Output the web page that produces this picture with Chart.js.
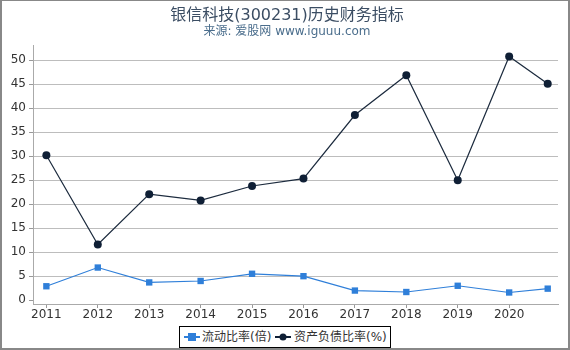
<!DOCTYPE html>
<html>
<head>
<meta charset="utf-8">
<script src="https://cdn.jsdelivr.net/npm/chart.js@4/dist/chart.umd.min.js"></script>
<style>
  body { margin: 0; background: #fff; }
  #wrap { position: relative; width: 570px; height: 350px; box-sizing: border-box; border: 2px solid #888; border-top-width: 1px; }
  #c { position: absolute; left: -2px; top: -1px; }
  .t { position: absolute; left: 0; width: 570px; text-align: center; font-family: "DejaVu Sans", "Noto Sans CJK SC", sans-serif; }
  #title { top: 0px; font-size: 16px; color: #3b4d63; }
  #sub { top: 20px; font-size: 12px; color: #4a6d8c; }
  #legend { position: absolute; left: 177px; top: 325px; width: 210px; height: 20px; border: 1px solid #000; background: #fff;
    font-family: "DejaVu Sans", "Noto Sans CJK SC", sans-serif; font-size: 12px; color: #333; line-height: 20px; white-space: nowrap; }
  #legend canvas, #legend span { position: absolute; }
  #legend canvas { top: 5px; }
  #legend span { top: 0; }
</style>
</head>
<body>
<div id="wrap">
  <canvas id="c" width="570" height="350"></canvas>
  <div class="t" id="title">银信科技(300231)历史财务指标</div>
  <div class="t" id="sub">来源: 爱股网 www.iguuu.com</div>
  <div id="legend"></div>
</div>
<script>
// x positions (years; last point is a partial year)
var xs = [2011, 2012, 2013, 2014, 2015, 2016, 2017, 2018, 2019, 2020, 2020.75];
var yearTicks = [2011, 2012, 2013, 2014, 2015, 2016, 2017, 2018, 2019, 2020];
var yTicks = [0, 5, 10, 15, 20, 25, 30, 35, 40, 45, 50];
var liudong = [2.9, 6.8, 3.7, 4.0, 5.5, 5.0, 2.0, 1.7, 3.0, 1.6, 2.4];
var fuzhai = [30.2, 11.6, 22.1, 20.8, 23.8, 25.35, 38.6, 46.9, 25.0, 50.8, 45.1];
var names = ["流动比率(倍)", "资产负债比率(%)"];

var blue = "#2f7fd9";
var navy = "#0f1f35";

function pts(vals) {
  return vals.map(function(v, i) { return {x: xs[i], y: v}; });
}

new Chart(document.getElementById("c"), {
  type: "line",
  data: {
    datasets: [{
      label: names[0],
      data: pts(liudong),
      borderColor: blue,
      backgroundColor: blue,
      borderWidth: 1.2,
      pointStyle: "rect",
      pointRadius: 4.5,
      pointBorderWidth: 0,
      tension: 0
    }, {
      label: names[1],
      data: pts(fuzhai),
      borderColor: "#1c2b3e",
      backgroundColor: navy,
      borderWidth: 1.2,
      pointStyle: "circle",
      pointRadius: 4,
      pointBorderWidth: 0,
      tension: 0
    }]
  },
  options: {
    responsive: false,
    animation: false,
    layout: { padding: { top: 45, right: 12, bottom: 28, left: 0 } },
    plugins: { legend: { display: false }, title: { display: false }, tooltip: { enabled: false } },
    scales: {
      x: {
        type: "linear",
        min: 2010.74,
        max: 2020.95,
        afterBuildTicks: function(s) { s.ticks = yearTicks.map(function(v) { return {value: v}; }); },
        afterFit: function(s) { s.height = 18; },
        border: { color: "#aaa", width: 1 },
        grid: { drawOnChartArea: false, tickLength: 4, tickColor: "#999" },
        ticks: { color: "#333", font: { family: "DejaVu Sans", size: 12 }, padding: 0, maxRotation: 0,
          callback: function(v) { return String(v); } }
      },
      y: {
        min: -0.8,
        max: 53.2,
        afterBuildTicks: function(s) { s.ticks = yTicks.map(function(v) { return {value: v}; }); },
        afterFit: function(s) { s.width = 33; },
        border: { color: "#aaa", width: 1 },
        grid: { color: function(c) { return c.tick && c.tick.value === 0 ? "rgba(0,0,0,0)" : "#bdbdbd"; },
          tickLength: 4, tickColor: "#999", lineWidth: 1 },
        ticks: { color: "#333", font: { family: "DejaVu Sans", size: 12 }, padding: 3 }
      }
    }
  }
});

// legend with line + marker samples
function sample(color, shape, left) {
  var cv = document.createElement("canvas");
  cv.width = 16; cv.height = 10;
  cv.style.left = left + "px";
  var g = cv.getContext("2d");
  g.strokeStyle = color; g.lineWidth = 2;
  g.beginPath(); g.moveTo(0, 5); g.lineTo(16, 5); g.stroke();
  g.fillStyle = color;
  if (shape === "rect") { g.fillRect(4, 1, 8, 8); }
  else { g.beginPath(); g.arc(8, 5, 3.5, 0, Math.PI * 2); g.fill(); }
  return cv;
}
function label(text, left) {
  var s = document.createElement("span");
  s.textContent = text;
  s.style.left = left + "px";
  return s;
}
var lg = document.getElementById("legend");
lg.appendChild(sample(blue, "rect", 4));
lg.appendChild(label(names[0], 22));
lg.appendChild(sample(navy, "circle", 95));
lg.appendChild(label(names[1], 114));
</script>
</body>
</html>
